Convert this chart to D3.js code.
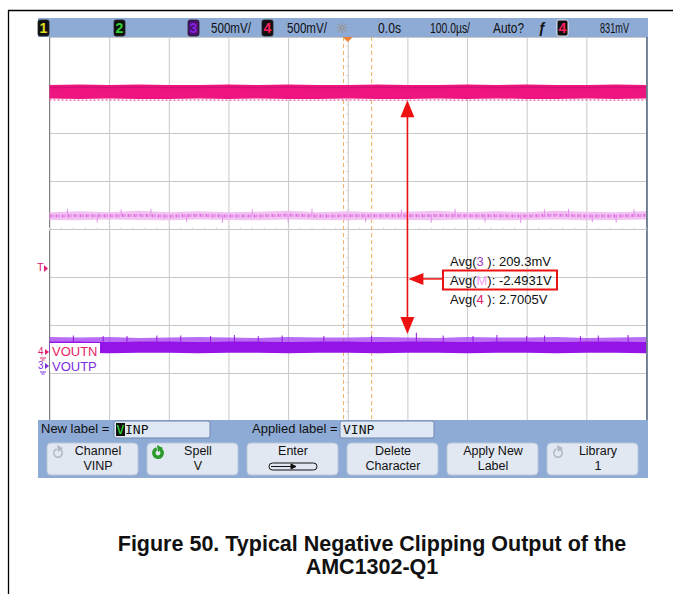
<!DOCTYPE html>
<html><head><meta charset="utf-8">
<script src="https://cdn.jsdelivr.net/npm/d3@7"></script>
<style>
html,body{margin:0;padding:0;background:#fff;}
svg{display:block;}
</style></head>
<body>
<script>
// ---------- data (screen divisions: time 0..10, vertical -4..4) ----------
const timeDiv = [0,0.5,1,1.5,2,2.5,3,3.5,4,4.5,5,5.5,6,6.5,7,7.5,8,8.5,9,9.5,10];
const ch4Top  = [3.00,3.01,3.00,3.01,3.00,3.00,3.01,3.00,3.01,3.00,3.00,3.01,3.00,3.00,3.01,3.00,3.01,3.00,3.00,3.01,3.00];
const ch4Bot  = [2.72,2.71,2.72,2.71,2.71,2.72,2.71,2.72,2.71,2.71,2.72,2.71,2.71,2.72,2.71,2.72,2.71,2.71,2.72,2.71,2.72];
const mathTop = [0.35,0.37,0.35,0.38,0.35,0.37,0.35,0.36,0.38,0.35,0.37,0.35,0.36,0.38,0.35,0.37,0.35,0.38,0.36,0.35,0.37];
const mathBot = [0.19,0.18,0.20,0.19,0.18,0.20,0.19,0.18,0.20,0.19,0.18,0.20,0.19,0.18,0.20,0.18,0.19,0.20,0.18,0.19,0.20];
const ch3Fuzz = [-2.25,-2.26,-2.25,-2.27,-2.26,-2.25,-2.26,-2.27,-2.25,-2.26,-2.26,-2.25,-2.26,-2.27,-2.25,-2.26,-2.26,-2.25,-2.27,-2.26,-2.25];
const ch3Top  = [-2.34,-2.34,-2.35,-2.34,-2.34,-2.35,-2.34,-2.34,-2.35,-2.34,-2.34,-2.35,-2.34,-2.34,-2.35,-2.34,-2.34,-2.35,-2.34,-2.34,-2.35];
const ch3Bot  = [-2.58,-2.58,-2.59,-2.58,-2.58,-2.59,-2.58,-2.58,-2.59,-2.58,-2.58,-2.59,-2.58,-2.58,-2.59,-2.58,-2.58,-2.59,-2.58,-2.58,-2.59];
const ch3Spikes = [[0.4,-2.22],[0.9,-2.23],[1.3,-2.23],[1.8,-2.22],[2.2,-2.22],[2.7,-2.23],[3.1,-2.21],[3.5,-2.23],[3.9,-2.22],[4.6,-2.23],[5.4,-2.22],[6.15,-2.16],[6.6,-2.22],[7.1,-2.23],[7.5,-2.21],[8.0,-2.23],[8.3,-2.22],[8.9,-2.23],[9.2,-2.22],[9.7,-2.21]];
const mathSpikes = [[0.3,0.42],[0.8,0.13],[1.2,0.41],[1.7,0.42],[2.3,0.14],[2.9,0.13],[3.4,0.41],[4.0,0.14],[4.4,0.42],[5.3,0.14],[5.9,0.41],[6.4,0.13],[6.8,0.42],[7.3,0.14],[7.9,0.13],[8.3,0.41],[8.7,0.42],[9.1,0.14],[9.5,0.13],[9.8,0.41]];
const cursorT = [4.93, 5.40];
const arrowT = 6.0, arrowTop = 2.68, arrowBot = -2.19, arrowMidV = -1.04, arrowBoxT = 6.58;

const headerItems = [
  {type:"badge", label:"1", x:38, fg:"#e0e020", bg:"#101010"},
  {type:"badge", label:"2", x:114, fg:"#30d030", bg:"#101010"},
  {type:"badge", label:"3", x:188, fg:"#8a20e0", bg:"#4a1070"},
  {type:"text",  label:"500mV/", x:211, w:40},
  {type:"badge", label:"4", x:262, fg:"#ff2060", bg:"#101010"},
  {type:"text",  label:"500mV/", x:287, w:40},
  {type:"text",  label:"0.0s", x:378, w:23},
  {type:"text",  label:"100.0µs/", x:430, w:40},
  {type:"text",  label:"Auto?", x:493, w:31},
  {type:"badge", label:"4", x:557, fg:"#ff2060", bg:"#101010"},
  {type:"text",  label:"831mV", x:600, w:29}
];
const avgLabels = [
  {pre:"Avg(", ch:"3", chColor:"#a040c0", post:" ): 209.3mV"},
  {pre:"Avg(", ch:"M", chColor:"#f0a0f0", post:"): -2.4931V"},
  {pre:"Avg(", ch:"4", chColor:"#e02070", post:" ): 2.7005V"}
];
const softKeys = [
  {l1:"Channel", l2:"VINP", icon:"gray"},
  {l1:"Spell", l2:"V", icon:"green"},
  {l1:"Enter", l2:"", icon:"enter"},
  {l1:"Delete", l2:"Character", icon:""},
  {l1:"Apply New", l2:"Label", icon:""},
  {l1:"Library", l2:"1", icon:"gray"}
];
const captionLines = ["Figure 50. Typical Negative Clipping Output of the", "AMC1302-Q1"];

// ---------- drawing ----------
const W = 673, H = 594;
const svg = d3.select("body").append("svg").attr("width", W).attr("height", H);
const F = "'Liberation Sans', Arial, sans-serif";

// page frame
svg.append("line").attr("x1",8).attr("x2",673).attr("y1",10.5).attr("y2",10.5).attr("stroke","#000").attr("stroke-width",1.3);
svg.append("line").attr("x1",8.5).attr("x2",8.5).attr("y1",10).attr("y2",594).attr("stroke","#000").attr("stroke-width",1.3);

// scope screen
const x = d3.scaleLinear().domain([0,10]).range([49.5, 646]);
const y = d3.scaleLinear().domain([-4,4]).range([421, 37]);

svg.append("rect").attr("x",38).attr("y",18).attr("width",610).attr("height",460).attr("fill","#fff");

// grid via axes
const gx = svg.append("g").attr("transform",`translate(0,${y(-4)})`)
  .call(d3.axisBottom(x).tickValues(d3.range(0,11)).tickSize(-(y(-4)-y(4))).tickFormat(""));
gx.select(".domain").remove();
gx.selectAll(".tick line").attr("stroke","#c8c8c8").attr("stroke-width",1);
const gy = svg.append("g").attr("transform",`translate(${x(0)},0)`)
  .call(d3.axisLeft(y).tickValues(d3.range(-4,5)).tickSize(-(x(10)-x(0))).tickFormat(""));
gy.select(".domain").remove();
gy.selectAll(".tick line").attr("stroke","#c8c8c8").attr("stroke-width",1);
// left and right frame edges
svg.append("line").attr("x1",x(0)).attr("x2",x(0)).attr("y1",y(4)).attr("y2",y(-4)).attr("stroke","#808080");
svg.append("line").attr("x1",x(10)+1).attr("x2",x(10)+1).attr("y1",y(4)).attr("y2",y(-4)).attr("stroke","#50607a").attr("stroke-width",1.5);
// minor ticks on center axes
svg.append("g").selectAll("line").data(d3.range(0,10.01,0.2)).join("line")
  .attr("x1",d=>x(d)).attr("x2",d=>x(d)).attr("y1",y(0)-1.5).attr("y2",y(0)+1.5).attr("stroke","#d8d8d8");
svg.append("g").selectAll("line").data(d3.range(-4,4.01,0.2)).join("line")
  .attr("x1",x(5)-1.5).attr("x2",x(5)+1.5).attr("y1",d=>y(d)).attr("y2",d=>y(d)).attr("stroke","#d8d8d8");

// cursor dashed lines
svg.append("g").selectAll("line").data(cursorT).join("line")
  .attr("x1",d=>x(d)).attr("x2",d=>x(d)).attr("y1",y(4)).attr("y2",y(-4))
  .attr("stroke","#f0b060").attr("stroke-width",1).attr("stroke-dasharray","4,3");

// traces
function band(top, bot) {
  return d3.area().x((d,i)=>x(timeDiv[i])).y0((d,i)=>y(bot[i])).y1((d,i)=>y(top[i]))(timeDiv);
}
// ch4 magenta
svg.append("path").attr("d", band(ch4Top, ch4Bot)).attr("fill","#ee1580");
svg.append("path").attr("d", band(ch4Top.map(v=>v-0.04), ch4Top.map(v=>v-0.07))).attr("fill","#b80c64").attr("opacity",0.45);
svg.append("path").attr("d", d3.line().x((d,i)=>x(timeDiv[i])).y((d,i)=>y(ch4Bot[i]-0.03))(timeDiv))
  .attr("stroke","#f070b0").attr("stroke-width",1.5).attr("fill","none").attr("stroke-dasharray","2,2");
// math light pink
svg.append("path").attr("d", band(mathTop, mathBot)).attr("fill","#f0b8f0").attr("opacity",0.85);
svg.append("path").attr("d", d3.line().x((d,i)=>x(timeDiv[i])).y((d,i)=>y((mathTop[i]+mathBot[i])/2))(timeDiv))
  .attr("stroke","#e070e0").attr("stroke-width",3).attr("fill","none").attr("stroke-dasharray","2,1,1,2");
svg.append("g").selectAll("line").data(mathSpikes).join("line")
  .attr("x1",d=>x(d[0])).attr("x2",d=>x(d[0])).attr("y1",d=>y(d[1])).attr("y2",y(0.28))
  .attr("stroke","#e090e8").attr("stroke-width",1);
// ch3 purple
svg.append("path").attr("d", band(ch3Fuzz, ch3Top)).attr("fill","#a23cf0").attr("opacity",0.75);
svg.append("path").attr("d", band(ch3Top, ch3Bot)).attr("fill","#9414e8");
svg.append("g").selectAll("line").data(ch3Spikes).join("line")
  .attr("x1",d=>x(d[0])).attr("x2",d=>x(d[0])).attr("y1",d=>y(d[1])).attr("y2",y(-2.35))
  .attr("stroke","#9414e8").attr("stroke-width",1);

// red arrows
const red = "#ee1111";
const ax = x(arrowT);
svg.append("line").attr("x1",ax).attr("x2",ax).attr("y1",y(arrowTop)+10).attr("y2",y(arrowBot)-10)
  .attr("stroke",red).attr("stroke-width",1.5);
svg.append("path").attr("d",`M${ax},${y(arrowTop)} L${ax-7},${y(arrowTop)+17} L${ax+7},${y(arrowTop)+17}Z`).attr("fill",red);
svg.append("path").attr("d",`M${ax},${y(arrowBot)} L${ax-7},${y(arrowBot)-17} L${ax+7},${y(arrowBot)-17}Z`).attr("fill",red);
svg.append("line").attr("x1",ax+12).attr("x2",x(arrowBoxT)).attr("y1",y(arrowMidV)).attr("y2",y(arrowMidV)).attr("stroke",red).attr("stroke-width",1.5);
svg.append("path").attr("d",`M${ax+1},${y(arrowMidV)} L${ax+16},${y(arrowMidV)-6} L${ax+16},${y(arrowMidV)+6}Z`).attr("fill",red);

// avg labels
const ag = svg.append("g").attr("font-family",F).attr("font-size",13).attr("fill","#111");
avgLabels.forEach((a,i)=>{
  const t = ag.append("text").attr("x",450).attr("y",266+i*19);
  t.append("tspan").text(a.pre);
  t.append("tspan").attr("fill",a.chColor).text(a.ch);
  t.append("tspan").text(a.post);
});
svg.append("rect").attr("x",443).attr("y",270.5).attr("width",114).attr("height",19).attr("fill","none").attr("stroke",red).attr("stroke-width",2);

// left markers
svg.append("text").attr("x",37).attr("y",271).attr("font-family",F).attr("font-size",11).attr("fill","#e0207a").text("T");
svg.append("path").attr("d","M44,265 L48,268.5 L44,272Z").attr("fill","#e0207a");
svg.append("rect").attr("x",50).attr("y",343).attr("width",50).attr("height",28).attr("fill","#fff");
svg.append("text").attr("x",38).attr("y",355).attr("font-family",F).attr("font-size",10).attr("fill","#e0206e").text("4");
svg.append("path").attr("d","M45,349 L49,352 L45,355Z").attr("fill","#e0206e");
svg.append("path").attr("d","M40,358 h6 M41.5,360 h3").attr("stroke","#e0206e");
svg.append("text").attr("x",38).attr("y",369).attr("font-family",F).attr("font-size",10).attr("fill","#7a30d8").text("3");
svg.append("path").attr("d","M45,363 L49,366 L45,369Z").attr("fill","#7a30d8");
svg.append("path").attr("d","M40,372 h6 M41.5,374 h3").attr("stroke","#7a30d8");
svg.append("text").attr("x",52).attr("y",356).attr("font-family",F).attr("font-size",13).attr("fill","#e81e64").text("VOUTN");
svg.append("text").attr("x",52).attr("y",370.5).attr("font-family",F).attr("font-size",13).attr("fill","#7a30e0").text("VOUTP");

// header bar
svg.append("rect").attr("x",38).attr("y",18).attr("width",610).attr("height",19).attr("fill","#8eabd6");
const hg = svg.append("g").attr("font-family",F).attr("font-size",14);
headerItems.forEach(h=>{
  if (h.type==="badge") {
    hg.append("rect").attr("x",h.x).attr("y",20).attr("width",11).attr("height",16).attr("rx",2)
      .attr("fill",h.bg).attr("stroke", h.x>500 ? "#fff" : "#222").attr("stroke-width",0.8);
    hg.append("text").attr("x",h.x+5.5).attr("y",33).attr("text-anchor","middle").attr("font-weight","bold")
      .attr("fill",h.fg).text(h.label);
  } else {
    hg.append("text").attr("x",h.x).attr("y",33).attr("fill","#111")
      .attr("textLength",h.w).attr("lengthAdjust","spacingAndGlyphs").text(h.label);
  }
});
hg.append("text").attr("x",336).attr("y",33).attr("font-family","'DejaVu Sans'").attr("font-size",14).attr("fill","#a08060").text("☼");
hg.append("text").attr("x",538).attr("y",33).attr("font-style","italic").attr("font-weight","bold").attr("fill","#111").text("ƒ");
svg.append("path").attr("d",`M${x(5)-5},37 L${x(5)+5},37 L${x(5)},42Z`).attr("fill","#f08030");

// bottom bar
const bb = svg.append("g");
bb.append("rect").attr("x",38).attr("y",420).attr("width",610).attr("height",58).attr("fill","#8eabd6");
const T = (sel, fs)=>sel.attr("font-family",F).attr("font-size",fs||13).attr("fill","#111");
T(bb.append("text").attr("x",41).attr("y",433).text("New label ="));
bb.append("rect").attr("x",114).attr("y",421).attr("width",96).attr("height",17).attr("rx",2).attr("fill","#dfe8f5").attr("stroke","#6f87ad");
bb.append("rect").attr("x",116).attr("y",423).attr("width",9).attr("height",13).attr("fill","#111");
bb.append("text").attr("x",116.5).attr("y",434).attr("fill","#30e030").attr("font-family","'DejaVu Sans Mono', monospace").attr("font-size",13).text("V");
bb.append("text").attr("x",125).attr("y",434).attr("fill","#111").attr("font-family","'DejaVu Sans Mono', monospace").attr("font-size",13).text("INP");
T(bb.append("text").attr("x",252).attr("y",433).text("Applied label ="));
bb.append("rect").attr("x",340).attr("y",421).attr("width",94).attr("height",17).attr("rx",2).attr("fill","#dfe8f5").attr("stroke","#6f87ad");
bb.append("text").attr("x",343).attr("y",434).attr("fill","#111").attr("font-family","'DejaVu Sans Mono', monospace").attr("font-size",13).text("VINP");

softKeys.forEach((k,i)=>{
  const bx = 47 + i*100, cx = bx + 46;
  const g = svg.append("g");
  g.append("rect").attr("x",bx).attr("y",443).attr("width",91).attr("height",32).attr("rx",4)
    .attr("fill","#e2e8f1").attr("stroke","#b8c6da");
  const tx = (k.icon==="gray"||k.icon==="green") ? cx+5 : cx;
  T(g.append("text").attr("x",tx).attr("y",455).attr("text-anchor","middle").text(k.l1), 12.5);
  if (k.l2) T(g.append("text").attr("x",tx).attr("y",469.5).attr("text-anchor","middle").text(k.l2), 12.5);
  if (k.icon==="gray" || k.icon==="green") {
    const col = k.icon==="gray" ? "#b0b8c0" : "#2a9a2a";
    const ix = bx+11, iy = 453;
    const arc = d3.arc().innerRadius(k.icon==="green"?2.5:3.5).outerRadius(k.icon==="green"?6:5).startAngle(0.6).endAngle(2*Math.PI-0.3);
    g.append("path").attr("transform",`translate(${ix},${iy})`).attr("d",arc()).attr("fill",col);
    g.append("path").attr("d",`M${ix-1},${iy-8} L${ix+5},${iy-5} L${ix},${iy-1}Z`).attr("fill",col);
  }
  if (k.icon==="enter") {
    g.append("rect").attr("x",cx-24).attr("y",463).attr("width",48).attr("height",7).attr("rx",3.5)
      .attr("fill","none").attr("stroke","#111");
    g.append("path").attr("d",`M${cx-22},466.5 H${cx+2} M${cx-2},464 L${cx+3},466.5 L${cx-2},469Z`).attr("stroke","#111").attr("fill","#111");
  }
});

// caption
const cg = svg.append("g").attr("font-family",F).attr("font-weight","bold").attr("font-size",21.5).attr("fill","#111").attr("text-anchor","middle");
captionLines.forEach((c,i)=> cg.append("text").attr("x",372).attr("y",551+i*23).text(c));
</script>
</body></html>
